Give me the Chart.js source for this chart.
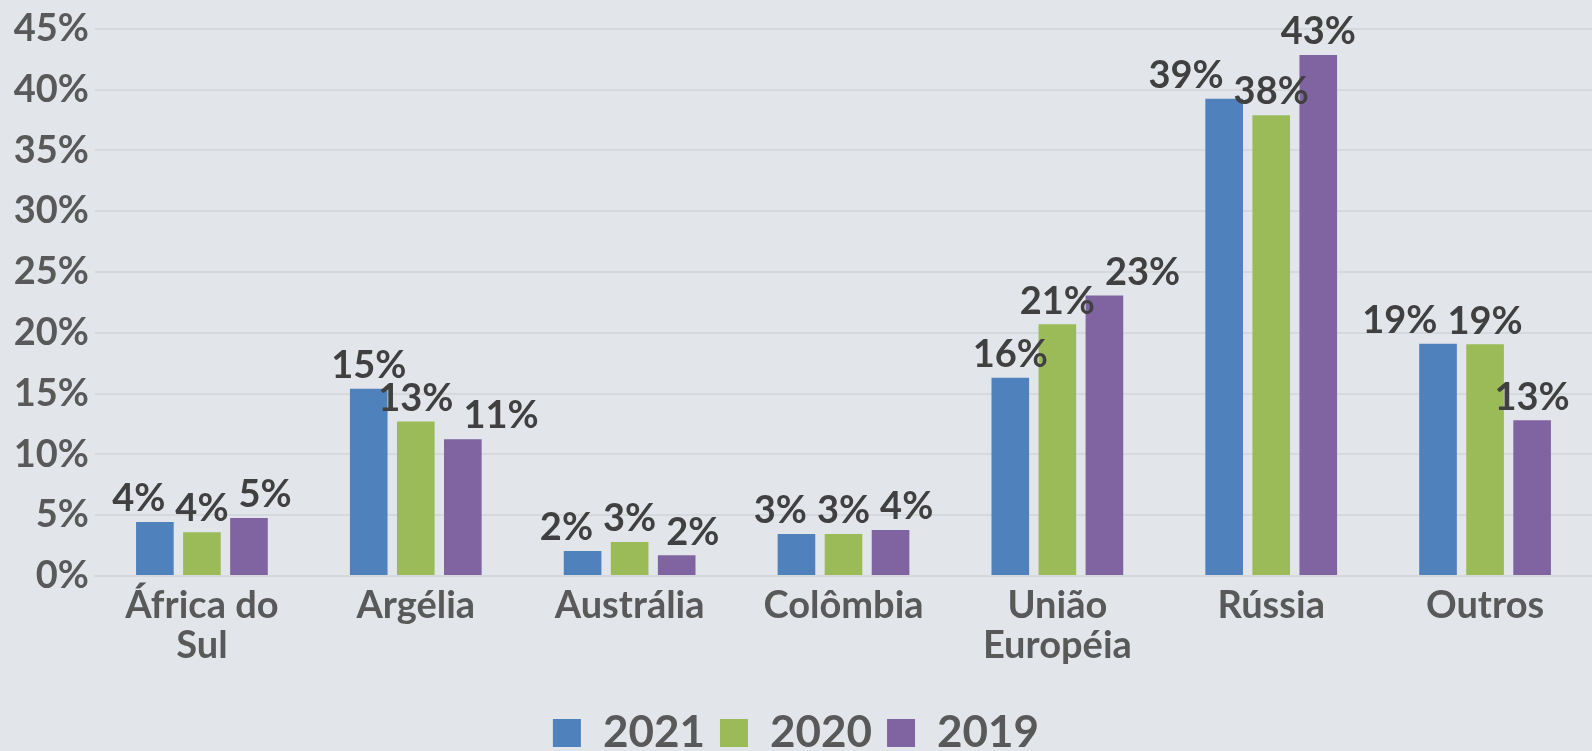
<!DOCTYPE html>
<html>
<head>
<meta charset="utf-8">
<script src="https://cdn.jsdelivr.net/npm/chart.js@4/dist/chart.umd.min.js"></script>
<style>
  html, body { margin: 0; padding: 0; background: #e2e6ea; }
  #wrap { width: 1592px; height: 751px; }
</style>
</head>
<body>
<div id="wrap"><canvas id="chart" width="1592" height="751"></canvas></div>
<script>
const categories = [['África do', 'Sul'], 'Argélia', 'Austrália', 'Colômbia', ['União', 'Européia'], 'Rússia', 'Outros'];
const years = ['2021', '2020', '2019'];
const values2021 = [4.45, 15.4, 2.05, 3.45, 16.3, 39.25, 19.1];
const values2020 = [3.6, 12.7, 2.8, 3.45, 20.7, 37.9, 19.05];
const values2019 = [4.76, 11.25, 1.7, 3.78, 23.07, 42.85, 12.8];
const yMax = 45;
const yStep = 5;

const colors = ['#4f81bd', '#9bbb59', '#8064a2'];
const fontFamily = 'Lato, "Open Sans", sans-serif';

// draws the percentage above each bar, pushing crowded neighbours sideways
const barLabels = {
    id: 'barLabels',
    afterDatasetsDraw(chart) {
        const ctx = chart.ctx;
        ctx.save();
        ctx.font = 'bold 38px ' + fontFamily;
        ctx.fillStyle = '#404040';
        ctx.textAlign = 'center';
        ctx.textBaseline = 'bottom';
        const textH = 30;
        const gap = 10;
        const metas = chart.data.datasets.map((d, i) => chart.getDatasetMeta(i));
        categories.forEach((c, idx) => {
            const items = metas.map((meta, i) => {
                const bar = meta.data[idx];
                const text = Math.round(chart.data.datasets[i].data[idx]) + '%';
                return { text, x: bar.x, y: bar.y - 4, w: ctx.measureText(text).width };
            });
            const mid = items[1];
            const left = items[0];
            const right = items[2];
            if (Math.abs(left.y - mid.y) < textH) {
                const need = (left.w + mid.w) / 2 + gap - (mid.x - left.x);
                if (need > 0) left.x -= need;
            }
            if (Math.abs(right.y - mid.y) < textH) {
                const need = (right.w + mid.w) / 2 + gap - (right.x - mid.x);
                if (need > 0) right.x += need;
            }
            items.forEach(it => ctx.fillText(it.text, it.x, it.y));
        });
        ctx.restore();
    }
};

const ctx = document.getElementById('chart').getContext('2d');
new Chart(ctx, {
    type: 'bar',
    data: {
        labels: categories,
        datasets: [
            { label: years[0], data: values2021, backgroundColor: colors[0] },
            { label: years[1], data: values2020, backgroundColor: colors[1] },
            { label: years[2], data: values2019, backgroundColor: colors[2] }
        ]
    },
    options: {
        responsive: false,
        animation: false,
        layout: { padding: { top: 6, right: 0, bottom: -14, left: 0 } },
        datasets: {
            bar: { categoryPercentage: 0.66, barPercentage: 0.8 }
        },
        plugins: {
            legend: {
                position: 'bottom',
                labels: {
                    boxWidth: 28,
                    boxHeight: 28,
                    padding: 15,
                    color: '#595959',
                    font: { family: fontFamily, size: 44, weight: 'bold' }
                }
            },
            tooltip: { enabled: false }
        },
        scales: {
            x: {
                grid: { display: false },
                border: { color: '#d5d9dc', width: 2 },
                afterFit: scale => { scale.height = 120; },
                ticks: {
                    color: '#595959',
                    padding: 2,
                    font: { family: fontFamily, size: 38, weight: 'bold', lineHeight: 1.05 }
                }
            },
            y: {
                min: 0,
                max: yMax,
                grid: { color: '#d5d9dc', lineWidth: 2, drawTicks: false },
                border: { display: false },
                afterFit: scale => { scale.width = 95; },
                ticks: {
                    stepSize: yStep,
                    color: '#595959',
                    padding: 6,
                    font: { family: fontFamily, size: 38, weight: 'bold' },
                    callback: v => v + '%'
                }
            }
        }
    },
    plugins: [barLabels]
});
</script>
</body>
</html>
